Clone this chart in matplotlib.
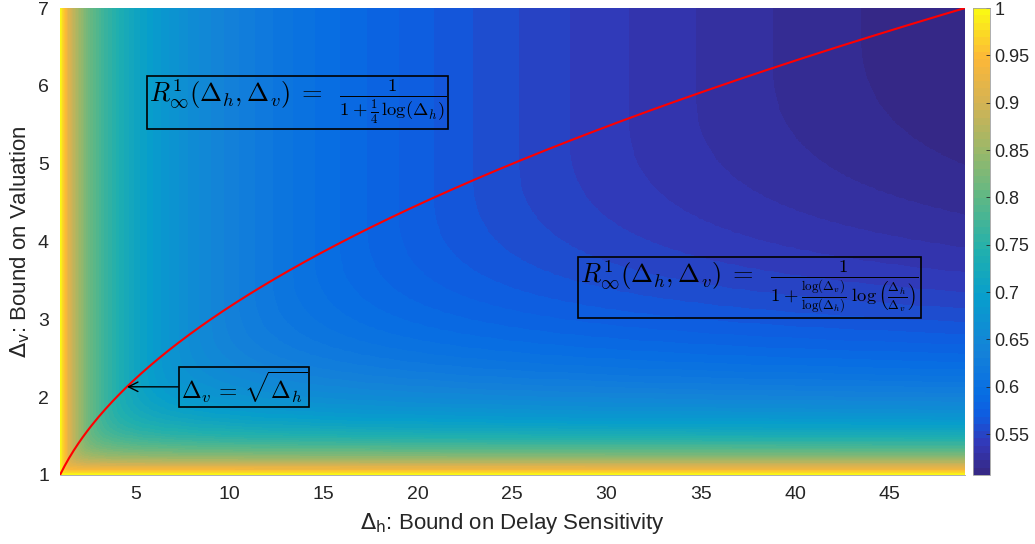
import numpy as np
import matplotlib
matplotlib.use("Agg")
import matplotlib.pyplot as plt
from matplotlib.colors import LinearSegmentedColormap

# axis ranges of the plotted surface
dh_range = [1, 49]
dv_range = [1, 7]
xticks = [5, 10, 15, 20, 25, 30, 35, 40, 45]
yticks = [1, 2, 3, 4, 5, 6, 7]
cticks = [0.55, 0.6, 0.65, 0.7, 0.75, 0.8, 0.85, 0.9, 0.95, 1.0]
cticklabels = ["0.55", "0.6", "0.65", "0.7", "0.75", "0.8", "0.85", "0.9", "0.95", "1"]

# colormap anchors as seen on the reference colorbar (parula-like, 64 steps)
cmap_pos = [0.0, 0.06, 0.12, 0.17, 0.26, 0.38, 0.48, 0.59, 0.70, 0.80, 0.90, 1.0]
cmap_rgb = [
    (0.21, 0.16, 0.53), (0.20, 0.22, 0.72), (0.06, 0.36, 0.88), (0.03, 0.43, 0.89),
    (0.08, 0.51, 0.85), (0.03, 0.62, 0.80), (0.13, 0.69, 0.68), (0.36, 0.72, 0.53),
    (0.61, 0.72, 0.41), (0.83, 0.70, 0.33), (0.99, 0.72, 0.22), (0.98, 0.97, 0.08),
]
cmap = LinearSegmentedColormap.from_list('ref', list(zip(cmap_pos, cmap_rgb)), N=64)

# surface R(dh, dv) as given in the annotations of the chart
dh = np.linspace(dh_range[0], dh_range[1], 961)
dv = np.linspace(dv_range[0], dv_range[1], 601)
H, V = np.meshgrid(dh, dv)
Veff = np.minimum(V, np.sqrt(H))
with np.errstate(divide='ignore', invalid='ignore'):
    ratio = np.where(H > 1, np.log(Veff) / np.log(H), 0.0)
R = 1.0 / (1.0 + ratio * np.log(H / Veff))

plt.rcParams['font.family'] = ['Liberation Sans', 'DejaVu Sans']

fig = plt.figure(figsize=(10.35, 5.44), dpi=100)
ax = fig.add_axes([0.058, 0.127, 0.874, 0.858])
im = ax.imshow(R, origin='lower', aspect='auto', cmap=cmap,
               extent=[dh_range[0], dh_range[1], dv_range[0], dv_range[1]],
               vmin=R.min(), vmax=1.0, interpolation='nearest')

xc = np.linspace(dh_range[0], dh_range[1], 400)
ax.plot(xc, np.sqrt(xc), color='red', lw=1.5)

ax.set_xlim(dh_range)
ax.set_ylim(dv_range)
ax.set_xticks(xticks)
ax.set_yticks(yticks)
ax.tick_params(length=0, labelsize=14, pad=8, colors='#262626')
for s in ['top', 'right', 'left']:
    ax.spines[s].set_visible(False)
ax.spines['bottom'].set_color('#a0a0a0')
ax.spines['bottom'].set_linewidth(0.6)

ax.set_xlabel(r'$\Delta_\mathrm{h}$: Bound on Delay Sensitivity', fontsize=16,
              math_fontfamily='dejavusans', color='#262626', labelpad=6)
ax.set_ylabel(r'$\Delta_\mathrm{v}$: Bound on Valuation', fontsize=16,
              math_fontfamily='dejavusans', color='#262626', labelpad=4)

box = dict(boxstyle='square,pad=0.08', fc='none', ec='black', lw=1.2)
ax.text(13.6, 5.79, r'$R^1_\infty(\Delta_h,\Delta_v)\;=\;\;\frac{1}{1+\frac{1}{4}\,\log(\Delta_h)}$',
        fontsize=19, math_fontfamily='cm', ha='center', va='center', bbox=box)
ax.text(37.6, 3.41,
        r'$R^1_\infty(\Delta_h,\Delta_v)\;=\;\;\frac{1}{1+\frac{\log(\Delta_v)}{\log(\Delta_h)}\;\log\left(\frac{\Delta_h}{\Delta_v}\right)}$',
        fontsize=19, math_fontfamily='cm', ha='center', va='center', bbox=box)
ax.annotate(r'$\Delta_v\,=\,\sqrt{\Delta_h}$', xy=(4.55, np.sqrt(4.55)), xytext=(10.76, 2.13),
            fontsize=17, math_fontfamily='cm', ha='center', va='center', bbox=box,
            arrowprops=dict(arrowstyle='->', color='black', lw=1.0, shrinkA=0, shrinkB=0))

cax = fig.add_axes([0.940, 0.127, 0.0164, 0.858])
cb = fig.colorbar(im, cax=cax)
cb.set_ticks(cticks)
cb.set_ticklabels(cticklabels)
cb.ax.tick_params(labelsize=13, length=3, width=0.6, direction='in', colors='#262626')
cb.outline.set_edgecolor('#a0a0a0')
cb.outline.set_linewidth(0.6)

fig.savefig('out.png', dpi=100)
